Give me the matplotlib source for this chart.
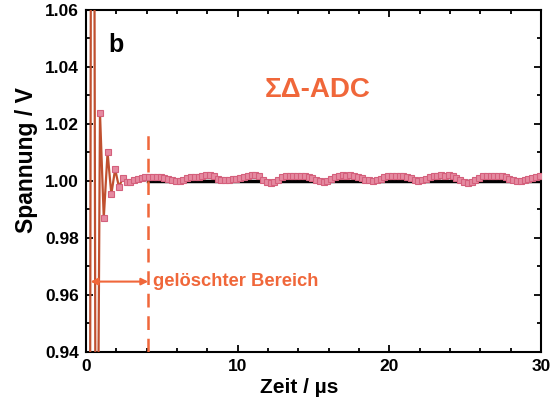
import numpy as np
import matplotlib.pyplot as plt
from matplotlib.ticker import MultipleLocator

# sample times (µs) and measured voltage (V)
t_start = 0.17
t_step = 0.25
spannung = [
    0.60, 1.40, 0.80, 1.024, 0.987, 1.010, 0.9954, 1.0042, 0.9979, 1.0009,
    0.9996, 0.9998, 1.0003, 1.0006, 1.0010, 1.0013, 1.0015, 1.0014, 1.0015, 1.0014,
    1.0012, 1.0008, 1.0003, 1.0001, 1.0001, 1.0004, 1.0010, 1.0014, 1.0015, 1.0014,
    1.0016, 1.0020, 1.0021, 1.0016, 1.0006, 1.0004, 1.0005, 1.0005, 1.0006, 1.0008,
    1.0010, 1.0014, 1.0019, 1.0021, 1.0020, 1.0016, 1.0005, 0.9995, 0.9993, 0.9995,
    1.0004, 1.0015, 1.0019, 1.0019, 1.0018, 1.0019, 1.0018, 1.0017, 1.0015, 1.0011,
    1.0005, 1.0000, 0.9998, 1.0001, 1.0008, 1.0015, 1.0019, 1.0020, 1.0019, 1.0020,
    1.0018, 1.0015, 1.0010, 1.0005, 1.0002, 1.0001, 1.0003, 1.0008, 1.0014, 1.0017,
    1.0017, 1.0016, 1.0017, 1.0016, 1.0014, 1.0010, 1.0004, 1.0001, 1.0002, 1.0006,
    1.0013, 1.0018, 1.0016, 1.0020, 1.0018, 1.0021, 1.0018, 1.0012, 1.0004, 0.9996,
    0.9993, 0.9995, 1.0003, 1.0012, 1.0017, 1.0018, 1.0017, 1.0017, 1.0016, 1.0016,
    1.0013, 1.0008, 1.0003, 1.0000, 1.0000, 1.0002, 1.0007, 1.0012, 1.0015, 1.0016,
]
zeit = t_start + t_step * np.arange(len(spannung))

soll_wert = 1.00
grenze = 4.1        # end of the blanked region (µs)
pfeil_y = 0.9647

orange = "#f0673a"
plt.rcParams['font.family'] = ['Liberation Sans', 'DejaVu Sans']
plt.rcParams['font.weight'] = 'bold'

fig = plt.figure(figsize=(5.6, 4.09), dpi=100)
ax = fig.add_axes([0.1536, 0.1394, 0.8125, 0.8362])

# reference line
ax.plot([grenze, 30], [soll_wert, soll_wert], color="black", lw=2.5, zorder=2)
# signal
ax.plot(zeit, spannung, color="#c0502f", lw=1.6, marker="s", ms=3.8,
        mfc="#e58aa0", mec="#d4607c", mew=0.8, zorder=3)

# blanked region marker
ax.plot([grenze, grenze], [0.94, 1.0186], color=orange, lw=1.8,
        ls=(0, (5.5, 3.5)), zorder=4)
ax.annotate("", xy=(0.3, pfeil_y), xytext=(grenze, pfeil_y),
            arrowprops=dict(arrowstyle="<|-|>", color=orange, lw=1.5,
                            mutation_scale=10, shrinkA=0, shrinkB=0))
ax.text(grenze + 0.3, pfeil_y, "gelöschter Bereich", color=orange,
        fontsize=13.2, fontweight="bold", va="center", ha="left")

ax.text(15.3, 1.0319, "ΣΔ-ADC", color=orange, fontsize=20,
        fontweight="bold", ha="center", va="center")
ax.text(2.0, 1.0477, "b", color="black", fontsize=18,
        fontweight="bold", ha="center", va="center")

ax.set_xlim(0, 30)
ax.set_ylim(0.94, 1.06)
ax.xaxis.set_major_locator(MultipleLocator(10))
ax.xaxis.set_minor_locator(MultipleLocator(2))
ax.yaxis.set_major_locator(MultipleLocator(0.02))
ax.yaxis.set_minor_locator(MultipleLocator(0.01))
ax.yaxis.set_major_formatter(plt.FormatStrFormatter("%.2f"))
ax.tick_params(which="both", direction="in", top=True, right=True,
               width=1.3, labelsize=12.5)
ax.tick_params(which="major", length=5, pad=5)
ax.tick_params(which="minor", length=3)
for s in ax.spines.values():
    s.set_linewidth(1.5)

ax.set_xlabel("Zeit / µs", fontsize=15, fontweight="bold")
ax.set_ylabel("Spannung / V", fontsize=16.5, fontweight="bold")
ax.xaxis.set_label_coords(0.469, -0.076)
ax.yaxis.set_label_coords(-0.106, 0.56)

fig.savefig("out.png", dpi=100)
